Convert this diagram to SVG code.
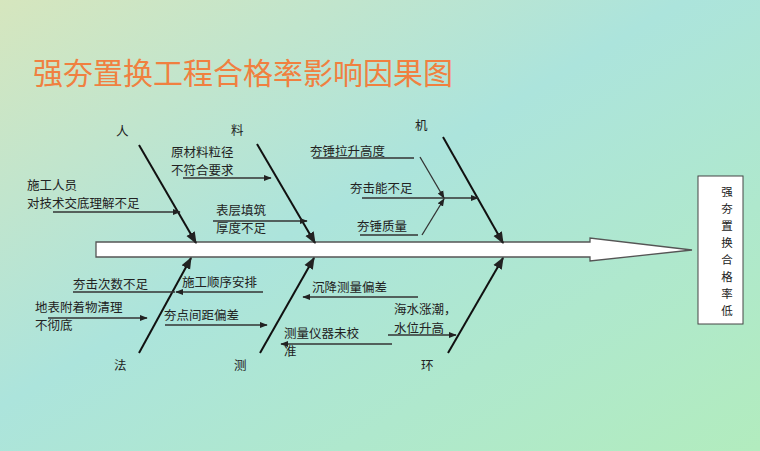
<svg xmlns="http://www.w3.org/2000/svg" width="760" height="451" viewBox="0 0 760 451">
<defs>
<linearGradient id="bg" x1="0" y1="0" x2="1" y2="1">
<stop offset="0" stop-color="#d6e6be"/><stop offset="0.45" stop-color="#ace4dc"/><stop offset="1" stop-color="#b2ecbe"/>
</linearGradient>
<marker id="a" viewBox="0 0 10 10" refX="9" refY="5" markerWidth="6" markerHeight="6" orient="auto"><path d="M0,1 L10,5 L0,9 z" fill="#222"/></marker>
</defs>
<style>
text{font-family:"Noto Sans CJK SC",sans-serif;font-size:12.5px;fill:#222}
.v{font-size:11.5px}
.b{stroke:#111;stroke-width:2;fill:none}
.s{stroke:#333;stroke-width:1.3;fill:none}
</style>
<rect width="760" height="451" fill="url(#bg)"/>
<text x="33" y="84" style="font-size:30px;fill:#f08040">强夯置换工程合格率影响因果图</text>
<g id="spine"><path d="M96,242 H590 V238 L692,250 L590,261 V257 H96 Z" fill="#fff" stroke="#555" stroke-width="1.3"/></g>
<g id="result"><rect x="698" y="176" width="45" height="148" fill="#fff" stroke="#444"/>
<g text-anchor="middle" class="v"><text class="v" x="727" y="196">强</text><text class="v" x="727" y="213">夯</text><text class="v" x="727" y="230">置</text><text class="v" x="727" y="247">换</text><text class="v" x="727" y="264">合</text><text class="v" x="727" y="281">格</text><text class="v" x="727" y="298">率</text><text class="v" x="727" y="315">低</text></g></g>
<g id="connectors">
<line class="b" x1="139" y1="145" x2="196" y2="243" marker-end="url(#a)"/>
<line class="b" x1="257" y1="144" x2="315" y2="243" marker-end="url(#a)"/>
<line class="b" x1="443" y1="137" x2="503" y2="243" marker-end="url(#a)"/>
<line class="b" x1="139" y1="353" x2="191" y2="258" marker-end="url(#a)"/>
<line class="b" x1="260" y1="353" x2="314" y2="258" marker-end="url(#a)"/>
<line class="b" x1="448" y1="353" x2="503" y2="258" marker-end="url(#a)"/>
<line class="s" x1="53" y1="212" x2="180" y2="212" marker-end="url(#a)"/>
<line class="s" x1="183" y1="178" x2="271" y2="178" marker-end="url(#a)"/>
<line class="s" x1="213" y1="221" x2="307" y2="221" marker-end="url(#a)"/>
<line class="s" x1="313" y1="158" x2="414" y2="158"/>
<line class="s" x1="420" y1="157" x2="444" y2="198" marker-end="url(#a)"/>
<line class="s" x1="362" y1="198" x2="478" y2="198" marker-end="url(#a)"/>
<line class="s" x1="360" y1="235" x2="418" y2="235"/>
<line class="s" x1="422" y1="235" x2="444" y2="199" marker-end="url(#a)"/>
<line class="s" x1="73" y1="292" x2="175" y2="292"/>
<line class="s" x1="263" y1="292" x2="176" y2="292" marker-end="url(#a)"/>
<line class="s" x1="48" y1="318" x2="147" y2="318" marker-end="url(#a)"/>
<line class="s" x1="165" y1="325" x2="267" y2="325" marker-end="url(#a)"/>
<line class="s" x1="418" y1="297" x2="303" y2="297" marker-end="url(#a)"/>
<line class="s" x1="392" y1="344" x2="281" y2="344" marker-end="url(#a)"/>
<line class="s" x1="388" y1="335" x2="456" y2="335" marker-end="url(#a)"/>
</g>
<g id="n-ren"><text x="116" y="136">人</text><text x="27" y="190">施工人员</text><text x="27" y="208">对技术交底理解不足</text></g>
<g id="n-liao"><text x="231" y="135">料</text><text x="171" y="157">原材料粒径</text><text x="171" y="175">不符合要求</text><text x="216" y="215">表层填筑</text><text x="216" y="233">厚度不足</text></g>
<g id="n-ji"><text x="415" y="130">机</text><text x="310" y="156">夯锤拉升高度</text><text x="350" y="193">夯击能不足</text><text x="357" y="231">夯锤质量</text></g>
<g id="n-fa"><text x="114" y="370">法</text><text x="73" y="289">夯击次数不足</text><text x="182" y="287">施工顺序安排</text><text x="35" y="312">地表附着物清理</text><text x="35" y="330">不彻底</text><text x="164" y="320">夯点间距偏差</text></g>
<g id="n-ce"><text x="234" y="370">测</text><text x="312" y="292">沉降测量偏差</text><text x="284" y="338">测量仪器未校</text><text x="284" y="356">准</text></g>
<g id="n-huan"><text x="421" y="370">环</text><text x="394" y="314">海水涨潮，</text><text x="394" y="333">水位升高</text></g>
</svg>
